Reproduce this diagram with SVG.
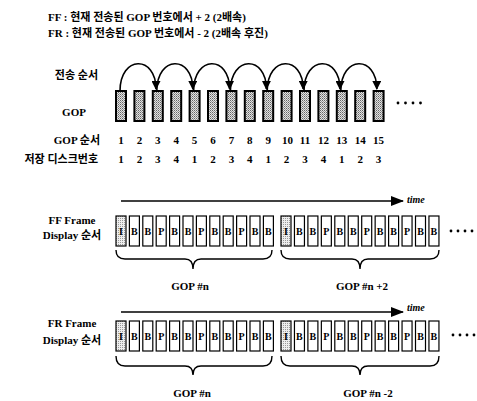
<svg xmlns="http://www.w3.org/2000/svg" xmlns:xlink="http://www.w3.org/1999/xlink" width="477" height="401" viewBox="0 0 477 401">
<style>
text{font-family:"Liberation Serif","Noto Sans CJK KR",serif;font-weight:bold;fill:#000}
.t{font-size:11px}
.n{font-size:11px;text-anchor:middle}
.lab{font-size:11px}
.f{font-size:10px;text-anchor:middle}
.time{font-size:10px;font-style:italic}
.gop{fill:url(#stDark);stroke:#000;stroke-width:2}
.fr{fill:#fff;stroke:#000;stroke-width:1.2}
.fi{fill:url(#stLight);stroke:#000;stroke-width:1.2}
.arc{fill:none;stroke:#000;stroke-width:1.6}
.axis{fill:none;stroke:#000;stroke-width:1.6}
.brace{fill:none;stroke:#000;stroke-width:1.4}
.dot{fill:#000}
</style>
<defs>
<pattern id="stDark" width="2" height="2" patternUnits="userSpaceOnUse">
<rect width="2" height="2" fill="#e2e2e2"/>
<rect width="1" height="1" fill="#666"/>
<rect x="1" y="1" width="1" height="1" fill="#999"/>
</pattern>
<pattern id="stLight" width="2" height="2" patternUnits="userSpaceOnUse">
<rect width="2" height="2" fill="#eee"/>
<rect width="1" height="1" fill="#999"/>
</pattern>
<marker id="ah" viewBox="0 0 10 10" refX="9" refY="5" markerWidth="10" markerHeight="9" markerUnits="userSpaceOnUse" orient="auto">
<path d="M0,0 L10,5 L0,10 z" fill="#000"/>
</marker>
<marker id="ta" viewBox="0 0 13 10" refX="12" refY="5" markerWidth="13" markerHeight="10" markerUnits="userSpaceOnUse" orient="auto">
<path d="M0,0 L13,5 L0,10 z" fill="#000"/>
</marker>
<g id="fI"><rect class="fi" x="0" y="0" width="10" height="30"/><text class="f" x="5" y="19">I</text></g>
<g id="fB"><rect class="fr" x="0" y="0" width="10" height="30"/><text class="f" x="5" y="19">B</text></g>
<g id="fP"><rect class="fr" x="0" y="0" width="10" height="30"/><text class="f" x="5" y="19">P</text></g>
</defs>
<rect width="477" height="401" fill="#fff"/>

<g id="title">
<text class="t" x="48" y="21">FF : 현재 전송된 GOP 번호에서 + 2 (2배속)</text>
<text class="t" x="48" y="37">FR : 현재 전송된 GOP 번호에서 - 2 (2배속 후진)</text>
</g>

<g id="row-labels">
<text class="lab" x="98" y="79" text-anchor="end">전송 순서</text>
<text class="lab" x="74" y="116" text-anchor="middle">GOP</text>
<text class="lab" x="100" y="144" text-anchor="end">GOP 순서</text>
<text class="lab" x="98" y="163" text-anchor="end">저장 디스크번호</text>
<text class="lab" x="72" y="224" text-anchor="middle">FF Frame</text>
<text class="lab" x="72" y="239" text-anchor="middle">Display 순서</text>
<text class="lab" x="72" y="327" text-anchor="middle">FR Frame</text>
<text class="lab" x="72" y="344" text-anchor="middle">Display 순서</text>
</g>

<g id="gop-row">
<rect class="gop" x="116" y="91" width="10" height="30"/>
<rect class="gop" x="134.4" y="91" width="10" height="30"/>
<rect class="gop" x="152.8" y="91" width="10" height="30"/>
<rect class="gop" x="171.2" y="91" width="10" height="30"/>
<rect class="gop" x="189.6" y="91" width="10" height="30"/>
<rect class="gop" x="208" y="91" width="10" height="30"/>
<rect class="gop" x="226.4" y="91" width="10" height="30"/>
<rect class="gop" x="244.8" y="91" width="10" height="30"/>
<rect class="gop" x="263.2" y="91" width="10" height="30"/>
<rect class="gop" x="281.6" y="91" width="10" height="30"/>
<rect class="gop" x="300" y="91" width="10" height="30"/>
<rect class="gop" x="318.4" y="91" width="10" height="30"/>
<rect class="gop" x="336.8" y="91" width="10" height="30"/>
<rect class="gop" x="355.2" y="91" width="10" height="30"/>
<rect class="gop" x="373.6" y="91" width="10" height="30"/>
<circle class="dot" cx="398" cy="103" r="1.4"/>
<circle class="dot" cx="405.5" cy="103" r="1.4"/>
<circle class="dot" cx="413" cy="103" r="1.4"/>
<circle class="dot" cx="420.5" cy="103" r="1.4"/>
</g>

<g id="gop-order">
<text class="n" x="121" y="144">1</text>
<text class="n" x="139.4" y="144">2</text>
<text class="n" x="157.8" y="144">3</text>
<text class="n" x="176.2" y="144">4</text>
<text class="n" x="194.6" y="144">5</text>
<text class="n" x="213" y="144">6</text>
<text class="n" x="231.4" y="144">7</text>
<text class="n" x="249.8" y="144">8</text>
<text class="n" x="268.2" y="144">9</text>
<text class="n" x="287.6" y="144">10</text>
<text class="n" x="305" y="144">11</text>
<text class="n" x="323.4" y="144">12</text>
<text class="n" x="341.8" y="144">13</text>
<text class="n" x="360.2" y="144">14</text>
<text class="n" x="378.6" y="144">15</text>
</g>

<g id="disk-numbers">
<text class="n" x="121" y="163">1</text>
<text class="n" x="139.4" y="163">2</text>
<text class="n" x="157.8" y="163">3</text>
<text class="n" x="176.2" y="163">4</text>
<text class="n" x="194.6" y="163">1</text>
<text class="n" x="213" y="163">2</text>
<text class="n" x="231.4" y="163">3</text>
<text class="n" x="249.8" y="163">4</text>
<text class="n" x="268.2" y="163">1</text>
<text class="n" x="286.6" y="163">2</text>
<text class="n" x="305" y="163">3</text>
<text class="n" x="323.4" y="163">4</text>
<text class="n" x="341.8" y="163">1</text>
<text class="n" x="360.2" y="163">2</text>
<text class="n" x="378.6" y="163">3</text>
</g>

<g id="connectors">
<path class="arc" marker-end="url(#ah)" d="M120,91 C120,55 156,55 156,89"/>
<path class="arc" marker-end="url(#ah)" d="M156.8,91 C156.8,55 192.8,55 192.8,89"/>
<path class="arc" marker-end="url(#ah)" d="M193.6,91 C193.6,55 229.6,55 229.6,89"/>
<path class="arc" marker-end="url(#ah)" d="M230.4,91 C230.4,55 266.4,55 266.4,89"/>
<path class="arc" marker-end="url(#ah)" d="M267.2,91 C267.2,55 303.2,55 303.2,89"/>
<path class="arc" marker-end="url(#ah)" d="M304,91 C304,55 340,55 340,89"/>
<path class="arc" marker-end="url(#ah)" d="M340.8,91 C340.8,55 376.8,55 376.8,89"/>
<path class="axis" marker-end="url(#ta)" d="M121,201 L403,201"/>
<path class="axis" marker-end="url(#ta)" d="M121,312 L403,312"/>
</g>

<g id="ff-row">
<text class="time" x="407" y="203">time</text>
<use xlink:href="#fI" x="116" y="216"/>
<use xlink:href="#fB" x="129.4" y="216"/>
<use xlink:href="#fB" x="142.8" y="216"/>
<use xlink:href="#fP" x="156.2" y="216"/>
<use xlink:href="#fB" x="169.6" y="216"/>
<use xlink:href="#fB" x="183" y="216"/>
<use xlink:href="#fP" x="196.4" y="216"/>
<use xlink:href="#fB" x="209.8" y="216"/>
<use xlink:href="#fB" x="223.2" y="216"/>
<use xlink:href="#fP" x="236.6" y="216"/>
<use xlink:href="#fB" x="250" y="216"/>
<use xlink:href="#fB" x="263.4" y="216"/>
<use xlink:href="#fI" x="281" y="216"/>
<use xlink:href="#fB" x="294.45" y="216"/>
<use xlink:href="#fB" x="307.9" y="216"/>
<use xlink:href="#fP" x="321.35" y="216"/>
<use xlink:href="#fB" x="334.8" y="216"/>
<use xlink:href="#fB" x="348.25" y="216"/>
<use xlink:href="#fP" x="361.7" y="216"/>
<use xlink:href="#fB" x="375.15" y="216"/>
<use xlink:href="#fB" x="388.6" y="216"/>
<use xlink:href="#fP" x="402.05" y="216"/>
<use xlink:href="#fB" x="415.5" y="216"/>
<use xlink:href="#fB" x="428.95" y="216"/>
<circle class="dot" cx="451" cy="231" r="1.4"/>
<circle class="dot" cx="458" cy="231" r="1.4"/>
<circle class="dot" cx="465" cy="231" r="1.4"/>
<circle class="dot" cx="472" cy="231" r="1.4"/>
<path class="brace" d="M116,250 Q116,259 125,259 L185,259 Q193,259 193,269 Q193,259 201,259 L263,259 Q272,259 272,250"/>
<path class="brace" d="M281,250 Q281,259 290,259 L352,259 Q360,259 360,269 Q360,259 368,259 L430,259 Q439,259 439,250"/>
<text class="lab" x="190" y="290" text-anchor="middle">GOP #n</text>
<text class="lab" x="362" y="290" text-anchor="middle">GOP #n +2</text>
</g>

<g id="fr-row">
<text class="time" x="407" y="311">time</text>
<use xlink:href="#fI" x="116" y="321"/>
<use xlink:href="#fB" x="129.4" y="321"/>
<use xlink:href="#fB" x="142.8" y="321"/>
<use xlink:href="#fP" x="156.2" y="321"/>
<use xlink:href="#fB" x="169.6" y="321"/>
<use xlink:href="#fB" x="183" y="321"/>
<use xlink:href="#fP" x="196.4" y="321"/>
<use xlink:href="#fB" x="209.8" y="321"/>
<use xlink:href="#fB" x="223.2" y="321"/>
<use xlink:href="#fP" x="236.6" y="321"/>
<use xlink:href="#fB" x="250" y="321"/>
<use xlink:href="#fB" x="263.4" y="321"/>
<use xlink:href="#fI" x="281" y="321"/>
<use xlink:href="#fB" x="294.45" y="321"/>
<use xlink:href="#fB" x="307.9" y="321"/>
<use xlink:href="#fP" x="321.35" y="321"/>
<use xlink:href="#fB" x="334.8" y="321"/>
<use xlink:href="#fB" x="348.25" y="321"/>
<use xlink:href="#fP" x="361.7" y="321"/>
<use xlink:href="#fB" x="375.15" y="321"/>
<use xlink:href="#fB" x="388.6" y="321"/>
<use xlink:href="#fP" x="402.05" y="321"/>
<use xlink:href="#fB" x="415.5" y="321"/>
<use xlink:href="#fB" x="428.95" y="321"/>
<circle class="dot" cx="453" cy="335" r="1.4"/>
<circle class="dot" cx="460" cy="335" r="1.4"/>
<circle class="dot" cx="467" cy="335" r="1.4"/>
<circle class="dot" cx="474" cy="335" r="1.4"/>
<path class="brace" d="M116,356 Q116,366 125,366 L185,366 Q193,366 193,375 Q193,366 201,366 L263,366 Q272,366 272,356"/>
<path class="brace" d="M281,356 Q281,366 290,366 L352,366 Q360,366 360,375 Q360,366 368,366 L430,366 Q439,366 439,356"/>
<text class="lab" x="192" y="397" text-anchor="middle">GOP #n</text>
<text class="lab" x="368" y="397" text-anchor="middle">GOP #n -2</text>
</g>
</svg>
